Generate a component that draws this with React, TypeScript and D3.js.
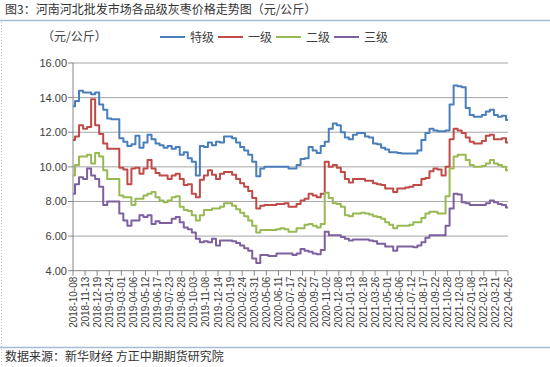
import * as React from 'react';
import * as d3 from 'd3';

const startDate = '2018-10-08';
const stepDays = 12;

const tickLabels = [
  '2018-10-08', '2018-11-13', '2018-12-19', '2019-01-24', '2019-03-01', '2019-04-06',
  '2019-05-12', '2019-06-17', '2019-07-23', '2019-08-28', '2019-10-03', '2019-11-08',
  '2019-12-14', '2020-01-19', '2020-02-24', '2020-03-31', '2020-05-06', '2020-06-11',
  '2020-07-17', '2020-08-22', '2020-09-27', '2020-11-02', '2020-12-08', '2021-01-13',
  '2021-02-18', '2021-03-26', '2021-05-01', '2021-06-06', '2021-07-12', '2021-08-17',
  '2021-09-22', '2021-10-28', '2021-12-03', '2022-01-08', '2022-02-13', '2022-03-21',
  '2022-04-26',
];

const seriesNames = ['特级', '一级', '二级', '三级'];
const seriesColors = ['#4a7ebb', '#be4b48', '#98b954', '#7d60a0'];

// 特级
const grade0 = [
  13.5, 13.8, 14.4, 14.3, 14.3, 14.2, 14.3, 13.6, 13.3, 12.8,
  12.75, 12.75, 11.65, 11.45, 11.2, 11.3, 11.8, 11.1, 11.4, 11.85,
  11.6, 11.35, 11.25, 11.1, 11.2, 11.05, 11.15, 10.7, 10.85, 10.5,
  10.3, 9.5, 11.2, 11.15, 11.4, 11.25, 11.45, 11.4, 11.75, 11.75,
  11.65, 11.4, 11.15, 10.95, 10.7, 10.3, 9.45, 9.9, 10.0, 10.0,
  10.0, 10.0, 10.0, 10.0, 9.9, 9.9, 10.1, 10.45, 10.5, 11.15,
  10.95, 10.8, 11.2, 11.45, 12.2, 12.5, 12.4, 12.0, 11.7, 11.6,
  11.85, 11.95, 11.95, 11.75, 11.7, 11.35, 11.3, 11.1, 11.0, 10.85,
  10.85, 10.8, 10.77, 10.77, 10.77, 10.77, 10.95, 11.55, 11.95, 12.2,
  12.1, 12.05, 12.05, 12.1, 13.6, 14.7, 14.65, 14.6, 13.4, 13.0,
  12.9, 12.9, 13.0, 13.2, 13.3, 13.0, 12.9, 12.95, 12.7,
];

// 一级
const grade1 = [
  11.55, 11.75, 12.4, 12.2, 12.3, 13.9, 12.4, 11.9, 11.35, 11.05,
  11.05, 11.05, 9.95, 9.85, 9.0, 9.9, 9.95, 9.6, 9.9, 10.4,
  9.9, 9.65, 9.5, 9.5, 9.3, 9.5, 9.6, 9.3, 8.95, 9.0,
  8.45, 8.25, 9.25, 9.5, 9.8, 9.55, 9.3, 9.6, 9.7, 9.7,
  9.55, 9.3, 9.05, 8.85, 8.6, 8.2, 7.6, 7.75, 7.8, 7.8,
  7.8, 7.85, 7.85, 7.9, 7.7, 7.7, 7.85, 8.05, 8.15, 8.45,
  8.35, 8.25, 8.45, 10.3, 10.0, 10.1, 9.95, 9.7, 9.3, 9.1,
  9.3, 9.3, 9.3, 9.2, 9.2, 9.05, 9.0, 8.95, 8.75, 8.75,
  8.55, 8.75, 8.75, 8.8, 8.85, 8.95, 8.95, 9.3, 9.35, 9.75,
  9.9, 9.85, 9.5, 10.0, 11.6, 12.2, 12.1, 11.95, 11.7, 11.45,
  11.35, 11.35, 11.5, 11.8, 11.85, 11.6, 11.6, 11.65, 11.4,
];

// 二级
const grade2 = [
  9.5, 10.1, 10.6, 10.6, 10.7, 10.2, 10.8, 10.6, 9.8, 9.3,
  9.3, 9.3, 8.35, 8.25, 8.25, 7.8, 8.15, 8.15, 8.35, 8.45,
  8.55, 8.25, 8.05, 7.95, 8.05, 8.25, 8.3, 7.7, 7.5, 7.45,
  7.2, 6.9, 7.2, 7.5, 7.5, 7.6, 7.6, 7.7, 7.9, 7.9,
  7.75, 7.55, 7.35, 7.15, 6.9, 6.6, 6.2, 6.35, 6.35, 6.35,
  6.35, 6.4, 6.45, 6.4, 6.25, 6.25, 6.45, 6.45, 6.65, 6.7,
  6.6, 6.5, 6.7, 8.5, 8.2, 7.9, 7.85, 7.7, 7.2, 7.15,
  7.3, 7.3, 7.35, 7.3, 7.25, 7.15, 7.1, 7.0, 6.8, 6.65,
  6.45, 6.6, 6.6, 6.6, 6.65, 6.8, 6.8, 7.05, 7.3, 7.4,
  7.4, 7.3, 7.3, 8.3, 9.9, 10.6, 10.7, 10.7, 10.4, 10.1,
  10.0, 10.0, 10.05, 10.2, 10.4, 10.2, 10.1, 10.0, 9.8,
];

// 三级
const grade3 = [
  8.45, 9.0, 9.4, 9.3, 9.9, 9.5, 9.3, 8.85, 7.8, 8.0,
  8.0, 8.0, 7.3, 6.9, 6.6, 6.9, 6.9, 7.2, 7.1, 7.2,
  6.7, 6.85, 6.75, 6.75, 6.75, 7.0, 7.1, 6.8, 6.5, 6.4,
  6.2, 5.85, 5.65, 5.7, 5.65, 5.85, 5.45, 5.75, 5.75, 5.75,
  5.7, 5.6, 5.45, 5.3, 5.15, 4.7, 4.45, 4.9, 4.9, 4.85,
  4.85, 5.0, 5.0, 5.0, 5.0, 4.9, 5.0, 5.25, 5.15, 5.1,
  5.0, 4.95, 5.2, 6.25, 6.05, 6.05, 6.05, 5.95, 5.85, 5.75,
  5.8, 5.8, 5.8, 5.8, 5.75, 5.7, 5.55, 5.55, 5.4, 5.4,
  5.15, 5.4, 5.4, 5.4, 5.4, 5.35, 5.45, 5.65, 5.9, 6.05,
  6.05, 6.05, 6.05, 6.6, 7.6, 8.45, 8.4, 7.95, 7.9, 7.8,
  7.8, 7.8, 7.8, 7.9, 8.05, 7.95, 7.85, 7.8, 7.65,
];

const yTicks = [4, 6, 8, 10, 12, 14, 16];

const width = 550;
const height = 367;
const plot = { left: 73, right: 508, top: 63, bottom: 270.7 };
const cjk = '"Noto Sans CJK SC", "Noto Sans", sans-serif';
const latin = '"Liberation Sans", Arial, sans-serif';

const App = () => {
  const parse = d3.utcParse('%Y-%m-%d');
  const t0 = parse(startDate) as Date;
  const series = [grade0, grade1, grade2, grade3];
  const dates = grade0.map((_, i) => d3.utcDay.offset(t0, i * stepDays));

  const x = d3
    .scaleUtc()
    .domain([parse(tickLabels[0]) as Date, parse(tickLabels[tickLabels.length - 1]) as Date])
    .range([plot.left, plot.right]);
  const y = d3.scaleLinear().domain([4, 16]).range([plot.bottom, plot.top]);

  const line = d3
    .line<number>()
    .x((_, i) => x(dates[i]))
    .y((d) => y(d))
    .curve(d3.curveStep);

  return (
    <svg
      width={width}
      height={height}
      style={{ position: 'absolute', left: 0, top: 0, background: '#fff' }}
    >
      <text x={5} y={14} fontFamily={cjk} fontSize={12} fill="#333">
        图3：河南河北批发市场各品级灰枣价格走势图（元/公斤）
      </text>
      <line x1={0} x2={width} y1={20.5} y2={20.5} stroke="#a7bcd6" strokeWidth={1.5} />
      <line x1={1.5} x2={1.5} y1={22} y2={height} stroke="#bbb" strokeDasharray="1,2" />
      <line x1={0} x2={width} y1={347.5} y2={347.5} stroke="#a7bcd6" strokeWidth={1.5} />
      <text x={5} y={361} fontFamily={cjk} fontSize={12} fill="#333">
        数据来源：新华财经 方正中期期货研究院
      </text>

      <text x={42} y={41} fontFamily={cjk} fontSize={12} fill="#404040">
        （元/公斤）
      </text>

      {seriesNames.map((name, k) => (
        <g key={name} transform={`translate(${160 + k * 58},0)`}>
          <line x1={0} x2={25} y1={37} y2={37} stroke={seriesColors[k]} strokeWidth={2} />
          <text x={30} y={41.5} fontFamily={cjk} fontSize={12} fill="#404040">
            {name}
          </text>
        </g>
      ))}

      {yTicks.map((v) => (
        <g key={v}>
          <line
            x1={plot.left}
            x2={plot.right}
            y1={y(v)}
            y2={y(v)}
            stroke={v === 4 ? '#868686' : '#a6a6a6'}
            strokeWidth={1}
          />
          <line x1={plot.left - 5} x2={plot.left} y1={y(v)} y2={y(v)} stroke="#868686" />
          <text
            x={plot.left - 6}
            y={y(v) + 4}
            textAnchor="end"
            fontFamily={latin}
            fontSize={11}
            fill="#404040"
          >
            {v.toFixed(2)}
          </text>
        </g>
      ))}
      <line x1={plot.left} x2={plot.left} y1={plot.top} y2={plot.bottom} stroke="#868686" />

      {tickLabels.map((s) => {
        const px = x(parse(s) as Date);
        return (
          <g key={s}>
            <line x1={px} x2={px} y1={plot.bottom} y2={plot.bottom + 5} stroke="#868686" />
            <text
              transform={`translate(${px + 3.5},${plot.bottom + 6}) rotate(-90)`}
              textAnchor="end"
              fontFamily={latin}
              fontSize={10}
              fill="#404040"
            >
              {s}
            </text>
          </g>
        );
      })}

      {series.map((vals, k) => (
        <path
          key={k}
          d={line(vals) || ''}
          fill="none"
          stroke={seriesColors[k]}
          strokeWidth={2}
          strokeLinejoin="round"
        />
      ))}
    </svg>
  );
};

export default App;
